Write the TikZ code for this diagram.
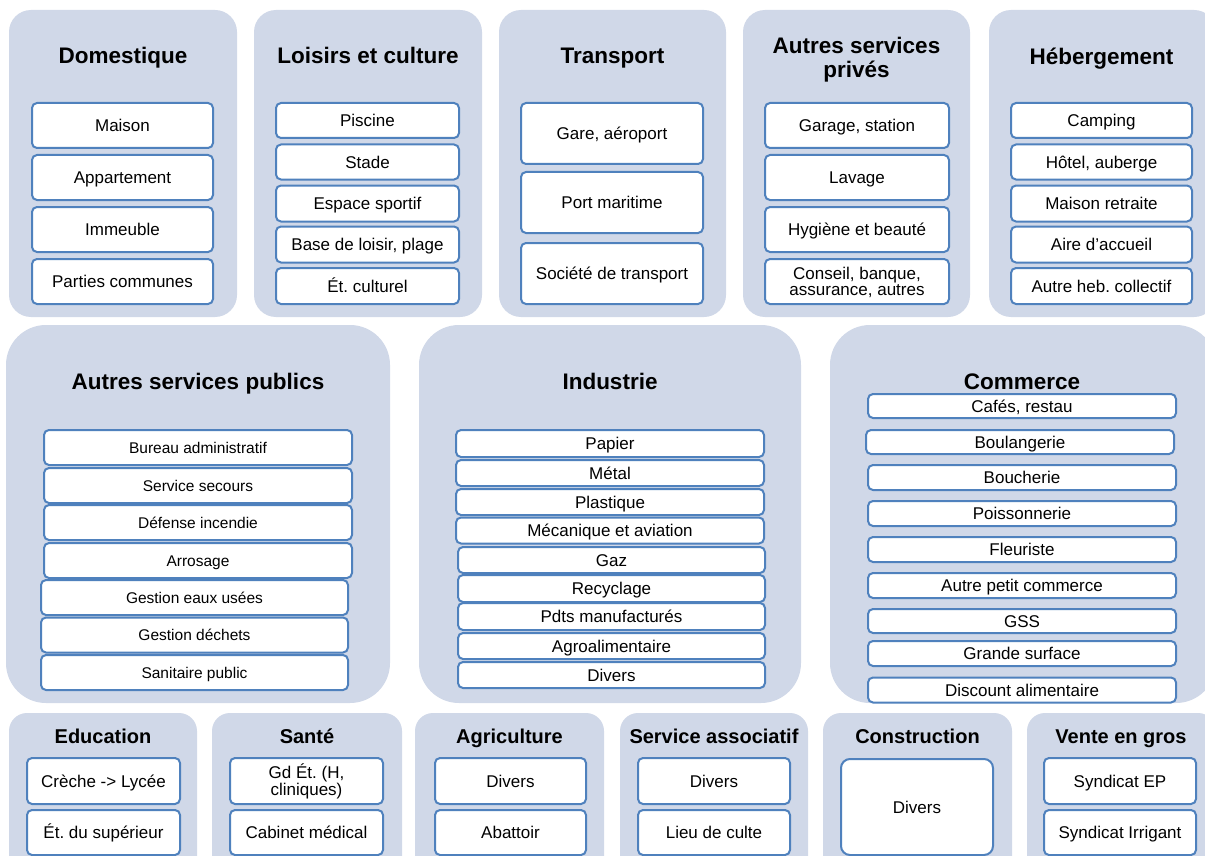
\documentclass[tikz,border=0pt]{standalone}
\usepackage{fontspec}
\setmainfont{Liberation Sans}
\definecolor{panelc}{RGB}{208,216,232}
\definecolor{boxc}{RGB}{79,129,189}
\begin{document}
\frenchspacing
\begin{tikzpicture}[x=1pt,y=-1pt,
  panel/.style={fill=panelc,draw=none,inner sep=0pt,outer sep=0pt},
  ptop/.style={panel,rounded corners=22pt},
  pmid/.style={panel,rounded corners=40pt},
  pbot/.style={panel,rounded corners=18pt},
  ibox/.style={draw=boxc,line width=2pt,fill=white,rounded corners=5pt,inner sep=1pt,outer sep=0pt,align=center,font=\fontsize{17}{18}\selectfont,text height=12.2pt,text depth=0pt},
  sbox/.style={ibox,font=\fontsize{15.5}{17}\selectfont,text height=11.1pt},
  ttl/.style={font=\bfseries\fontsize{22.5}{24}\selectfont,align=center,inner sep=0pt,text height=16.1pt,text depth=0pt},
  tbot/.style={font=\bfseries\fontsize{20}{22}\selectfont,align=center,inner sep=0pt,text height=14.3pt,text depth=0pt}]
\useasboundingbox (0,0) rectangle (1205,856);
\clip (0,0) rectangle (1205,856);
\fill[white] (0,0) rectangle (1205,856);
% ---------- top row panels
\node[ptop,minimum width=228,minimum height=307] (pdom) at (123,163.5) {};
\node[ptop,minimum width=228,minimum height=307] (ploi) at (368,163.5) {};
\node[ptop,minimum width=227,minimum height=307] (ptra) at (612.5,163.5) {};
\node[ptop,minimum width=227,minimum height=307] (paut) at (856.5,163.5) {};
\node[ptop,minimum width=227,minimum height=307] (pheb) at (1102.5,163.5) {};
\node[ttl] (tdom) at (123,55) {Domestique};
\node[ttl] (tloi) at (368,55.5) {Loisirs et culture};
\node[ttl] (ttra) at (612.5,55) {Transport};
\node[ttl,text height=40.1pt] (taut) at (856.5,57) {Autres services\\privés};
\node[ttl] (theb) at (1101.5,56) {Hébergement};
% Domestique
\node[ibox,minimum width=181,minimum height=45] (d1) at (122.5,125.5) {Maison};
\node[ibox,minimum width=181,minimum height=45] (d2) at (122.5,177.5) {Appartement};
\node[ibox,minimum width=181,minimum height=45] (d3) at (122.5,229.5) {Immeuble};
\node[ibox,minimum width=181,minimum height=45] (d4) at (122.5,281.5) {Parties communes};
% Loisirs
\node[ibox,minimum width=183,minimum height=35] (l1) at (367.5,120.5) {Piscine};
\node[ibox,minimum width=183,minimum height=35] (l2) at (367.5,162) {Stade};
\node[ibox,minimum width=183,minimum height=36] (l3) at (367.5,203.5) {Espace sportif};
\node[ibox,minimum width=183,minimum height=36] (l4) at (367.5,244.5) {Base de loisir, plage};
\node[ibox,minimum width=183,minimum height=36] (l5) at (367.5,286) {Ét. culturel};
% Transport
\node[ibox,minimum width=182,minimum height=61] (r1) at (612,133.5) {Gare, aéroport};
\node[ibox,minimum width=182,minimum height=61] (r2) at (612,202.5) {Port maritime};
\node[ibox,minimum width=182,minimum height=61] (r3) at (612,273.5) {Société de transport};
% Autres services privés
\node[ibox,minimum width=184,minimum height=45] (a1) at (857,125.5) {Garage, station};
\node[ibox,minimum width=184,minimum height=45] (a2) at (857,177.5) {Lavage};
\node[ibox,minimum width=184,minimum height=45] (a3) at (857,229.5) {Hygiène et beauté};
\node[ibox,minimum width=184,minimum height=45,font=\fontsize{17}{16}\selectfont,text height=28.2pt] (a4) at (857,281.5) {Conseil, banque,\\assurance, autres};
% Hebergement
\node[ibox,minimum width=181,minimum height=35] (h1) at (1101.5,120.5) {Camping};
\node[ibox,minimum width=181,minimum height=35] (h2) at (1101.5,162) {Hôtel, auberge};
\node[ibox,minimum width=181,minimum height=36] (h3) at (1101.5,203.5) {Maison retraite};
\node[ibox,minimum width=181,minimum height=36] (h4) at (1101.5,244.5) {Aire d’accueil};
\node[ibox,minimum width=181,minimum height=36] (h5) at (1101.5,286) {Autre heb. collectif};
% ---------- middle row panels
\node[pmid,minimum width=384,minimum height=378] (ppub) at (198,514) {};
\node[pmid,minimum width=382,minimum height=378] (pind) at (610,514) {};
\node[pmid,minimum width=386,minimum height=378] (pcom) at (1023,514) {};
\node[ttl] (tpub) at (198,381) {Autres services publics};
\node[ttl] (tind) at (610,381) {Industrie};
\node[ttl] (tcom) at (1022,381) {Commerce};
% Autres services publics
\node[sbox,minimum width=308,minimum height=35] (s1) at (198,447.5) {Bureau administratif};
\node[sbox,minimum width=308,minimum height=35] (s2) at (198,485.5) {Service secours};
\node[sbox,minimum width=308,minimum height=35] (s3) at (198,522.5) {Défense incendie};
\node[sbox,minimum width=308,minimum height=35] (s4) at (198,560.5) {Arrosage};
\node[sbox,minimum width=307,minimum height=35] (s5) at (194.5,597.5) {Gestion eaux usées};
\node[sbox,minimum width=307,minimum height=35] (s6) at (194.5,635) {Gestion déchets};
\node[sbox,minimum width=307,minimum height=35] (s7) at (194.5,672.5) {Sanitaire public};
% Industrie
\node[ibox,minimum width=308,minimum height=27] (i1) at (610,443.5) {Papier};
\node[ibox,minimum width=308,minimum height=26] (i2) at (610,473) {Métal};
\node[ibox,minimum width=308,minimum height=26] (i3) at (610,502) {Plastique};
\node[ibox,minimum width=308,minimum height=26] (i4) at (610,530.5) {Mécanique et aviation};
\node[ibox,minimum width=307,minimum height=26] (i5) at (611.5,560) {Gaz};
\node[ibox,minimum width=307,minimum height=27] (i6) at (611.5,588.5) {Recyclage};
\node[ibox,minimum width=307,minimum height=27] (i7) at (611.5,616.5) {Pdts manufacturés};
\node[ibox,minimum width=307,minimum height=26] (i8) at (611.5,646) {Agroalimentaire};
\node[ibox,minimum width=307,minimum height=26] (i9) at (611.5,675) {Divers};
% Commerce
\node[ibox,minimum width=308,minimum height=24] (c1) at (1022,406) {Cafés, restau};
\node[ibox,minimum width=308,minimum height=24] (c2) at (1020,442) {Boulangerie};
\node[ibox,minimum width=308,minimum height=25] (c3) at (1022,477.5) {Boucherie};
\node[ibox,minimum width=308,minimum height=25] (c4) at (1022,513.5) {Poissonnerie};
\node[ibox,minimum width=308,minimum height=25] (c5) at (1022,549.5) {Fleuriste};
\node[ibox,minimum width=308,minimum height=25] (c6) at (1022,585.5) {Autre petit commerce};
\node[ibox,minimum width=308,minimum height=24] (c7) at (1022,621) {GSS};
\node[ibox,minimum width=308,minimum height=25] (c8) at (1022,653.5) {Grande surface};
\node[ibox,minimum width=308,minimum height=25] (c9) at (1022,690) {Discount alimentaire};
% ---------- bottom row panels
\node[pbot,minimum width=188,minimum height=170] (pedu) at (103,798) {};
\node[pbot,minimum width=190,minimum height=170] (psan) at (307,798) {};
\node[pbot,minimum width=189,minimum height=170] (pagr) at (509.5,798) {};
\node[pbot,minimum width=188,minimum height=170] (pser) at (714,798) {};
\node[pbot,minimum width=189,minimum height=170] (pcon) at (917.5,798) {};
\node[pbot,minimum width=189,minimum height=170] (pven) at (1121.5,798) {};
\node[tbot] (tedu) at (103,736) {Education};
\node[tbot] (tsan) at (307,736) {Santé};
\node[tbot] (tagr) at (509.5,736) {Agriculture};
\node[tbot] (tser) at (714,736) {Service associatif};
\node[tbot] (tcon) at (917.5,736) {Construction};
\node[tbot] (tven) at (1121,736) {Vente en gros};
\node[ibox,minimum width=153,minimum height=46] (e1) at (103.5,781) {Crèche -> Lycée};
\node[ibox,minimum width=153,minimum height=45] (e2) at (103.5,832.5) {Ét. du supérieur};
\node[ibox,minimum width=153,minimum height=46,font=\fontsize{17}{16.5}\selectfont,text height=28.7pt] (h6) at (306.5,781) {Gd Ét. (H,\\cliniques)};
\node[ibox,minimum width=153,minimum height=45] (h7) at (306.5,832.5) {Cabinet médical};
\node[ibox,minimum width=151,minimum height=46] (g1) at (510.5,781) {Divers};
\node[ibox,minimum width=151,minimum height=45] (g2) at (510.5,832.5) {Abattoir};
\node[ibox,minimum width=152,minimum height=46] (v1) at (714,781) {Divers};
\node[ibox,minimum width=152,minimum height=45] (v2) at (714,832.5) {Lieu de culte};
\node[ibox,rounded corners=9pt,minimum width=152,minimum height=96] (k1) at (917,807) {Divers};
\node[ibox,minimum width=152,minimum height=46] (w1) at (1120,781) {Syndicat EP};
\node[ibox,minimum width=152,minimum height=45] (w2) at (1120,832.5) {Syndicat Irrigant};
\end{tikzpicture}
\end{document}
